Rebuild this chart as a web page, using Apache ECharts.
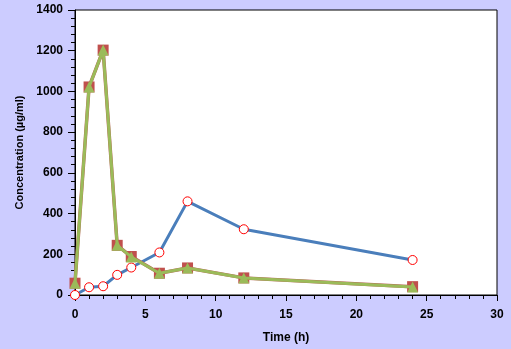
<!DOCTYPE html>
<html>
<head>
<meta charset="utf-8">
<script src="https://cdn.jsdelivr.net/npm/echarts@6/dist/echarts.min.js"></script>
<style>
  html, body { margin: 0; padding: 0; background: #CCCCFF; }
  #chart { width: 511px; height: 349px; }
</style>
</head>
<body>
<div id="chart"></div>
<script>
// Sampling times (h)
const timePoints = [0, 1, 2, 3, 4, 6, 8, 12, 24];
// Concentrations (µg/ml) per formulation
const seriesCircle = [0, 38, 43, 99, 135, 209, 460, 323, 172];
const seriesSquare = [58, 1022, 1203, 244, 189, 107, 133, 84, 41];
const seriesTriangle = [58, 1022, 1203, 244, 187, 107, 133, 84, 39];

const xTicks = [0, 5, 10, 15, 20, 25, 30];
const yTicks = [0, 200, 400, 600, 800, 1000, 1200, 1400];

const pairs = ys => timePoints.map((t, i) => [t, ys[i]]);

const labelFont = { fontFamily: 'Liberation Sans, Arial, sans-serif', fontWeight: 'bold', fontSize: 12, color: '#000' };

const chart = echarts.init(document.getElementById('chart'), null, { renderer: 'canvas' });
chart.setOption({
  animation: false,
  backgroundColor: '#CCCCFF',
  grid: {
    left: 75, right: 14, top: 10, bottom: 53,
    show: true, backgroundColor: '#fff', borderColor: '#000', borderWidth: 1
  },
  xAxis: {
    type: 'value', min: xTicks[0], max: xTicks[xTicks.length - 1], interval: 5,
    name: 'Time (h)', nameLocation: 'middle', nameGap: 37,
    nameTextStyle: Object.assign({}, labelFont, { fontSize: 12 }),
    axisLine: { show: true, lineStyle: { color: '#000', width: 1 } },
    axisTick: { show: true, inside: false, length: 6, lineStyle: { color: '#000' } },
    minorTick: { show: true, splitNumber: 5, length: 4, lineStyle: { color: '#000' } },
    axisLabel: Object.assign({ margin: 14, formatter: v => String(v) }, labelFont),
    splitLine: { show: false }
  },
  yAxis: {
    type: 'value', min: yTicks[0], max: yTicks[yTicks.length - 1], interval: 200,
    name: 'Concentration (µg/ml)', nameLocation: 'middle', nameGap: 45, nameRotate: 90,
    nameTextStyle: Object.assign({}, labelFont, { fontSize: 11 }),
    axisLine: { show: true, lineStyle: { color: '#000', width: 1 } },
    axisTick: { show: true, inside: false, length: 7, lineStyle: { color: '#000' } },
    minorTick: { show: true, splitNumber: 5, length: 4, lineStyle: { color: '#000' } },
    axisLabel: Object.assign({ margin: 12, formatter: v => String(v) }, labelFont),
    splitLine: { show: false }
  },
  series: [
    {
      type: 'line', data: pairs(seriesCircle),
      symbol: 'circle', symbolSize: 9,
      lineStyle: { color: '#4A7EBB', width: 3 },
      itemStyle: { color: '#fff', borderColor: '#FF0000', borderWidth: 1 },
      z: 3
    },
    {
      type: 'line', data: pairs(seriesSquare),
      symbol: 'rect', symbolSize: 11,
      lineStyle: { color: '#B7675A', width: 3.5 },
      itemStyle: { color: '#C0504D', borderWidth: 0 },
      z: 4
    },
    {
      type: 'line', data: pairs(seriesTriangle),
      symbol: 'triangle', symbolSize: 11,
      lineStyle: { color: '#9BBB59', width: 3 },
      itemStyle: { color: '#9BBB59', borderWidth: 0 },
      z: 5
    }
  ]
});
</script>
</body>
</html>
